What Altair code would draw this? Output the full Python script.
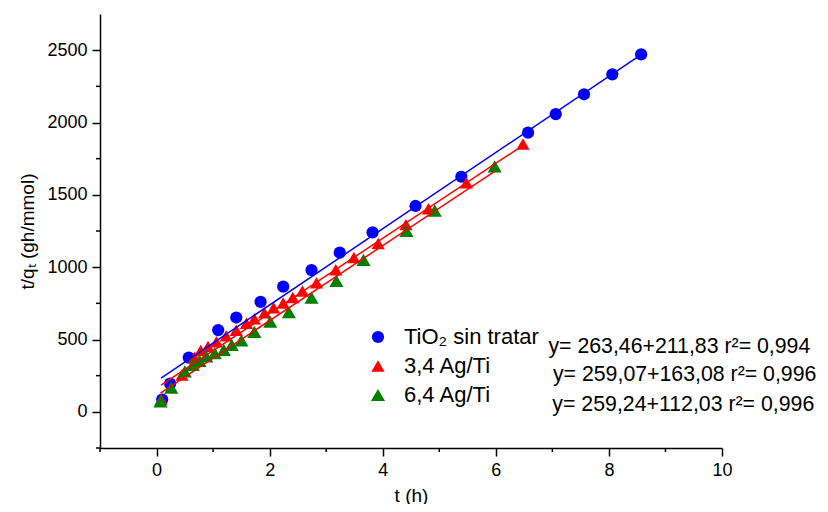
import altair as alt
import pandas as pd

FONT = "Liberation Sans"

series_names = ["TiO₂ sin tratar", "3,4 Ag/Ti", "6,4 Ag/Ti"]
series_colors = ["#0000FF", "#FF0000", "#008000"]
series_shapes = ["circle", "triangle-up", "triangle-up"]
series_sizes = [150, 200, 200]

blue_t = [0.10, 0.24, 0.57, 1.09, 1.41, 1.84, 2.24, 2.74, 3.24, 3.82, 4.58, 5.39, 6.57, 7.06, 7.56, 8.06, 8.57]
blue_v = [85, 195, 375, 565, 652, 760, 865, 980, 1100, 1240, 1423, 1625, 1930, 2058, 2195, 2333, 2471]

red_t = [0.08, 0.45, 0.67, 0.78, 0.91, 1.06, 1.23, 1.41, 1.59, 1.73, 1.91, 2.07, 2.24, 2.41, 2.58, 2.83,
         3.17, 3.49, 3.92, 4.41, 4.81, 5.48, 6.48]
red_v = [85, 255, 377, 424, 452, 484, 525, 564, 612, 644, 684, 719, 752, 791, 835, 892,
         982, 1066, 1164, 1294, 1404, 1583, 1852]

green_t = [0.07, 0.26, 0.50, 0.64, 0.76, 0.88, 1.03, 1.19, 1.33, 1.50, 1.73, 2.01, 2.34, 2.74, 3.18,
           3.66, 4.42, 4.92, 5.98]
green_v = [72, 168, 279, 325, 353, 383, 405, 429, 463, 494, 552, 624, 689, 790, 906,
           1051, 1251, 1390, 1696]

# fitted lines (from printed equations), drawn between first and last sample time
fit_slope = [263.46, 259.07, 259.24]
fit_intercept = [211.83, 163.08, 112.03]
fit_t_start = [0.08, 0.08, 0.07]
fit_t_end = [8.57, 6.48, 5.98]
fit_colors = ["#0000FF", "#FF0000", "#FF0000"]

eq_labels = ["y= 263,46+211,83 r²= 0,994", "y= 259,07+163,08 r²= 0,996", "y= 259,24+112,03 r²= 0,996"]
eq_t = [6.93, 7.01, 7.00]
eq_v = [406, 213, 8]

x_major = [0, 2, 4, 6, 8, 10]
x_minor = [-1, 1, 3, 5, 7, 9]
y_major = [0, 500, 1000, 1500, 2000, 2500]
y_minor = [-250, 250, 750, 1250, 1750, 2250]

W, H = 622, 434

rows = []
for k, (ts, vs) in enumerate([(blue_t, blue_v), (red_t, red_v), (green_t, green_v)]):
    for t, v in zip(ts, vs):
        rows.append({"t": t, "v": v, "series": series_names[k], "k": k})
points = pd.DataFrame(rows)

xscale = alt.Scale(domain=[-1, 10], nice=False, zero=False)
yscale = alt.Scale(domain=[-250, 2750], nice=False, zero=False)

common_axis = dict(
    grid=False, domainColor="black", tickColor="black", domainWidth=1.5, tickWidth=1.5,
    labelFont=FONT, titleFont=FONT, labelColor="black", titleColor="black",
    labelFontSize=18, titleFontSize=19, titleFontWeight="normal",
    labelFlush=False, labelOverlap=False, tickSize=8, format="d",
)

xaxis = alt.Axis(values=x_major, title="t (h)", labelPadding=5, titlePadding=7, **common_axis)
yaxis = alt.Axis(values=y_major, title="t/qₜ (gh/mmol)", labelPadding=5, titlePadding=9, **common_axis)

legend = alt.Legend(
    title=None, orient="none", legendX=267, legendY=312, labelFont=FONT, labelFontSize=22,
    labelColor="black", symbolSize=150, symbolStrokeWidth=0, rowPadding=7, labelOffset=15, padding=0,
)

pts = alt.Chart(points).mark_point(filled=True, opacity=1, strokeWidth=0).encode(
    x=alt.X("t:Q", scale=xscale, axis=xaxis),
    y=alt.Y("v:Q", scale=yscale, axis=yaxis),
    color=alt.Color("series:N", scale=alt.Scale(domain=series_names, range=series_colors), legend=legend),
    shape=alt.Shape("series:N", scale=alt.Scale(domain=series_names, range=series_shapes), legend=legend),
    size=alt.Size("series:N", scale=alt.Scale(domain=series_names, range=series_sizes), legend=None),
    order=alt.Order("k:Q"),
)

layers = [pts]
for i in range(3):
    df = pd.DataFrame({
        "t": [fit_t_start[i], fit_t_end[i]],
        "v": [fit_intercept[i] + fit_slope[i] * fit_t_start[i], fit_intercept[i] + fit_slope[i] * fit_t_end[i]],
    })
    layers.append(
        alt.Chart(df).mark_line(color=fit_colors[i], strokeWidth=1.5).encode(
            x=alt.X("t:Q", scale=xscale), y=alt.Y("v:Q", scale=yscale)
        )
    )

# minor ticks
layers.append(
    alt.Chart(pd.DataFrame({"t": x_minor})).mark_rule(color="black", strokeWidth=1.5).encode(
        x=alt.X("t:Q", scale=xscale), y=alt.value(H), y2=alt.value(H + 4)
    )
)
layers.append(
    alt.Chart(pd.DataFrame({"v": y_minor})).mark_rule(color="black", strokeWidth=1.5).encode(
        y=alt.Y("v:Q", scale=yscale), x=alt.value(-4), x2=alt.value(0)
    )
)

eq_df = pd.DataFrame({"t": eq_t, "v": eq_v, "label": eq_labels})
layers.append(
    alt.Chart(eq_df).mark_text(align="left", baseline="alphabetic", font=FONT, fontSize=21.3, color="black").encode(
        x=alt.X("t:Q", scale=xscale), y=alt.Y("v:Q", scale=yscale), text="label:N"
    )
)

chart = alt.layer(*layers).properties(
    width=W, height=H,
    autosize=alt.AutoSizeParams(type="none"),
    padding={"left": 92, "top": 6, "right": 98, "bottom": 56},
    background="white",
).configure_view(stroke=None)

chart.save("out.html", embed_options={"renderer": "svg", "actions": False})
